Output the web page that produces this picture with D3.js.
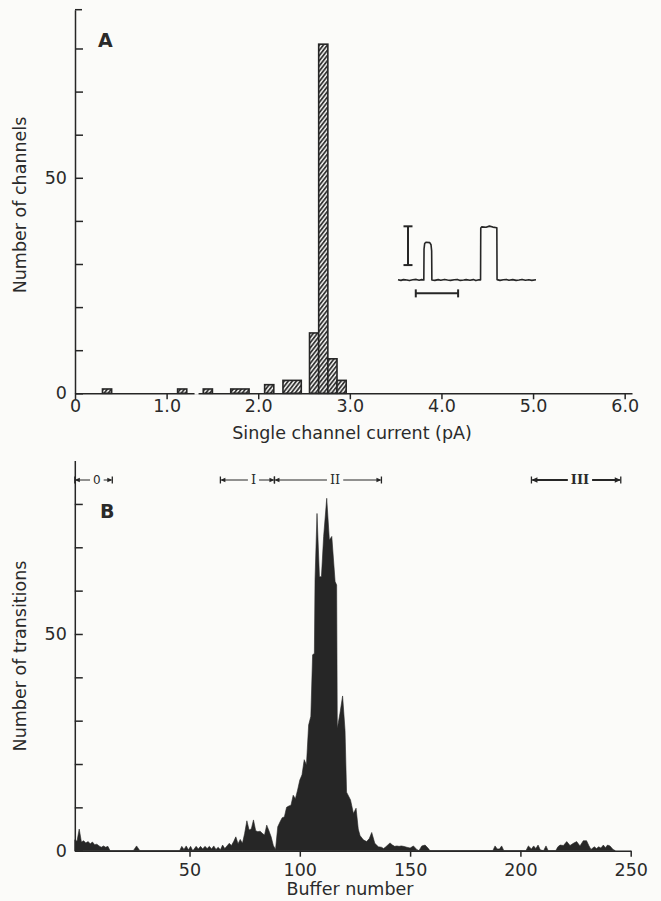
<!DOCTYPE html>
<html>
<head>
<meta charset="utf-8">
<script src="https://cdnjs.cloudflare.com/ajax/libs/d3/7.8.5/d3.min.js"></script>
<style>
  body { margin: 0; background: #fbfbf9; }
  svg { display: block; }
  text { font-family: 'DejaVu Sans', sans-serif; fill: #2a2a2a; }
</style>
</head>
<body>
<svg id="chart" width="661" height="901"></svg>
<script>
// panel A - histogram of single channel current
var binStart = [0.3, 1.12, 1.4, 1.7, 1.8, 2.07, 2.27, 2.37, 2.56, 2.66, 2.76, 2.86]
var binCount = [1, 1, 1, 1, 1, 2, 3, 3, 14, 81, 8, 3]
var binWidth = 0.1
var currentTicks = [0, 1, 2, 3, 4, 5, 6]
var currentTickLabels = ['0', '1.0', '2.0', '3.0', '4.0', '5.0', '6.0']
var channelTicks = [0, 10, 20, 30, 40, 50, 60, 70, 80]

// panel B - transitions per buffer
var bufferNumber = [
  -2, -1, 0, 1, 2, 3, 4, 5, 6, 7, 8, 9, 10, 11, 12, 13, 14,
  24.5, 26, 27.5,
  45.5, 46.5, 47.5, 48.5, 49.5, 50.5, 51.5, 53, 54, 55, 56, 57, 58, 59, 60, 61, 62, 63, 64,
  65, 66, 67, 68, 69, 70, 71, 72, 73, 74, 75, 76, 77, 78, 79, 80, 81, 82, 83, 84, 85, 86, 87, 88, 89,
  90, 91, 92, 93, 94, 95, 96, 97, 98, 99, 100, 101, 102, 103, 104, 105,
  105.8, 106.6, 106.9, 107.8, 108.9, 109.8, 110.8, 112.2, 113.4, 114.5, 116, 116.7, 117,
  118.2, 119.4, 120.5, 121.2, 123, 124.3, 125.5, 126.5, 127.3, 128.8, 130.3, 131.5, 132.6,
  134, 135.6, 137, 138, 139, 140.9, 142, 143, 144, 145, 146, 147, 148.5, 150, 151.5, 153, 154,
  155.3, 156.8, 158.3, 159,
  187.5, 188.5, 189.5, 190.5, 191.5, 192.5,
  202.5, 203.6, 205, 206, 207, 208, 209, 210.5, 211.6, 212.6,
  216, 217, 218, 219.5, 221, 222.5, 224, 225.5, 227, 228.5, 230, 231, 232,
  233.5, 234.5, 235.5, 236.5, 237.6, 238.5, 239.5, 240.6, 242, 243
]
var transitions = [
  2.5, 2.2, 5.0, 2.0, 2.3, 1.8, 2.1, 1.6, 2.0, 1.4, 1.5, 1.1, 0.8, 1.1, 0.8, 1.0, 0,
  0, 1.1, 0,
  0, 1.0, 0.3, 1.1, 0.2, 1.0, 0, 1.0, 0.4, 1.0, 0.4, 1.0, 0.5, 1.0, 0.4, 1.1, 0.3, 0.8, 0.2,
  1.3, 0.5, 1.1, 1.7, 1.2, 2.1, 3.2, 1.6, 2.6, 1.7, 4.0, 6.9, 4.8, 5.0, 7.1, 4.6, 4.4, 4.5, 4.0, 3.6, 5.9, 4.6, 3.2, 1.2, 0.3,
  5.5, 6.6, 7.6, 7.8, 10.0, 10.3, 10.5, 12.8, 12.0, 14.0, 16.3, 17.5, 21.0, 19.8, 29.0, 31.0,
  45.2, 45.5, 62.5, 77.8, 63.2, 63.2, 72.5, 81.3, 71.7, 72.5, 62.1, 61.3, 28.2,
  31.7, 35.7, 27.8, 13.5, 11.7, 8.6, 9.8, 5.0, 3.5, 2.5, 2.1, 2.8, 4.2,
  1.7, 0.9, 0.8, 0.5, 0.9, 1.8, 1.3, 1.0, 1.1, 1.0, 1.1, 1.0, 0.8, 0.6, 1.1, 0.3, 0,
  1.1, 1.3, 0.5, 0,
  0, 1.1, 0.4, 0.4, 1.1, 0,
  0, 1.1, 0.4, 1.1, 0.5, 1.3, 0.2, 0, 1.1, 0,
  0, 0.9, 1.3, 1.2, 2.1, 1.2, 1.7, 2.1, 1.1, 2.3, 2.3, 1.2, 0.3,
  0.9, 0.5, 0.9, 0.6, 1.3, 0.7, 1.3, 1.1, 0.3, 0
]
var bufferTicks = [50, 100, 150, 200, 250]
var transitionTicks = [0, 10, 20, 30, 40, 50, 60, 70, 80]

// experimental periods marked above panel B
var periodNames = ['0', 'I', 'II', 'III']
var periodStart = [-2, 64, 88.5, 205]
var periodEnd = [15, 88.5, 137, 245.5]
var periodLabelAt = [8, 79, 116, 227]

// inset: sample current record (ms, pA)
var traceTime = [0, 7, 13, 21, 27, 35, 43, 50, 56, 61, 61.5, 63, 66, 75, 78, 79.5, 80, 87, 95, 101, 110, 117,
  124, 133, 140, 147, 155, 161, 170, 178, 184, 191, 195, 195.5, 198, 208, 216, 224, 233.5, 234,
  241, 249, 256, 262, 271, 279, 286, 293, 301, 309, 316, 326]
var traceCurrent = [0.01, -0.02, 0.02, 0, -0.03, 0.01, 0.03, -0.01, 0.02, 0, 1.6, 1.88, 1.95, 1.93, 1.82, 1.5, 0, -0.02, 0.02, -0.01,
  0.03, 0, -0.02, 0.01, 0.03, -0.02, 0, 0.02, -0.01, 0.02, -0.03, 0.01, 0, 2.68, 2.74, 2.72, 2.78, 2.73, 2.7, 0.02,
  -0.02, 0.01, 0.03, -0.01, 0.02, -0.02, 0, 0.03, -0.01, 0.01, -0.02, 0.01]
var scaleBarCurrent = 2
var scaleBarTime = 100

var svg = d3.select('#chart')
var ink = '#262626'
var paper = '#fbfbf9'
var labelSize = 17.5

function styleAxis(g) {
  g.selectAll('path, line').attr('stroke', ink).attr('stroke-width', 1.5)
  g.selectAll('text')
    .attr('font-size', labelSize + 'px')
    .attr('fill', '#333')
}

// ---------- panel A ----------
var xA = d3.scaleLinear().domain([0, 6.08]).range([75, 632])
var yA = d3.scaleLinear().domain([0, 89]).range([393.3, 9.7])

var defs = svg.append('defs')
var hatch = defs.append('pattern')
  .attr('id', 'hatch')
  .attr('patternUnits', 'userSpaceOnUse')
  .attr('width', 3.2)
  .attr('height', 3.2)
  .attr('patternTransform', 'rotate(38)')
hatch.append('rect').attr('width', 3.2).attr('height', 3.2).attr('fill', paper)
hatch.append('line')
  .attr('x1', 1).attr('x2', 1)
  .attr('y1', 0).attr('y2', 3.2)
  .attr('stroke', ink)
  .attr('stroke-width', 1.7)

// merge neighbouring bins of the same count, the plotter drew them as one block
var runs = []
binStart.forEach(function (s, i) {
  var last = runs[runs.length - 1]
  if (last && last.n == binCount[i] && Math.abs(last.x1 - s) < 0.02) {
    last.x1 = s + binWidth
  } else {
    runs.push({ x0: s, x1: s + binWidth, n: binCount[i] })
  }
})

svg.append('g')
  .selectAll('rect')
  .data(runs)
  .join('rect')
  .attr('x', function (d) { return xA(d.x0) })
  .attr('width', function (d) { return xA(d.x1) - xA(d.x0) })
  .attr('y', function (d) { return yA(d.n) })
  .attr('height', function (d) { return yA(0) - yA(d.n) })
  .attr('fill', 'url(#hatch)')
  .attr('stroke', ink)
  .attr('stroke-width', 1.6)

var axisA = svg.append('g')
  .attr('transform', 'translate(0,' + yA(0) + ')')
  .call(d3.axisBottom(xA)
    .tickValues(currentTicks)
    .tickFormat(function (d, i) { return currentTickLabels[i] })
    .tickSize(6)
    .tickSizeOuter(0))
axisA.call(styleAxis)
axisA.selectAll('text').attr('y', 18.5).attr('dy', 0)
// small break in the drawn baseline
axisA.append('rect')
  .attr('x', xA(1.305)).attr('y', -1.5)
  .attr('width', 4).attr('height', 3)
  .attr('fill', paper)

var yAxisA = svg.append('g')
  .attr('transform', 'translate(' + xA(0) + ',0)')
  .call(d3.axisLeft(yA)
    .tickValues(channelTicks)
    .tickFormat(function (d) { return d == 0 || d == 50 ? d : '' })
    .tickSize(-8)
    .tickPadding(8)
    .tickSizeOuter(0))
yAxisA.call(styleAxis)
yAxisA.append('line')
  .attr('x1', 0).attr('x2', 7)
  .attr('y1', yA.range()[1]).attr('y2', yA.range()[1])
  .attr('stroke', ink).attr('stroke-width', 1.5)

svg.append('text')
  .attr('x', 98).attr('y', 47)
  .attr('font-size', '19px').attr('font-weight', 700)
  .text('A')

svg.append('text')
  .attr('x', 352).attr('y', 439)
  .attr('text-anchor', 'middle')
  .attr('font-size', labelSize + 'px')
  .attr('fill', '#333')
  .text('Single channel current (pA)')

svg.append('text')
  .attr('transform', 'translate(26,' + 205 + ') rotate(-90)')
  .attr('text-anchor', 'middle')
  .attr('font-size', labelSize + 'px')
  .attr('fill', '#333')
  .text('Number of channels')

// inset record
var inset = svg.append('g')
var tx = d3.scaleLinear().domain([0, 326]).range([398, 536])
var ty = d3.scaleLinear().domain([0, 2.75]).range([280, 226.7])
var traceLine = d3.line()
  .x(function (d) { return tx(d[0]) })
  .y(function (d) { return ty(d[1]) })
inset.append('path')
  .datum(traceTime.map(function (t, i) { return [t, traceCurrent[i]] }))
  .attr('d', traceLine)
  .attr('fill', 'none')
  .attr('stroke', ink)
  .attr('stroke-width', 1.6)
  .attr('stroke-linejoin', 'round')
// current scale bar
var barT = 23.6
inset.append('line')
  .attr('x1', tx(barT)).attr('x2', tx(barT))
  .attr('y1', ty(0.77)).attr('y2', ty(0.77 + scaleBarCurrent))
  .attr('stroke', ink).attr('stroke-width', 2)
;[0.77, 0.77 + scaleBarCurrent].forEach(function (c) {
  inset.append('line')
    .attr('x1', tx(barT) - 4.5).attr('x2', tx(barT) + 4.5)
    .attr('y1', ty(c)).attr('y2', ty(c))
    .attr('stroke', ink).attr('stroke-width', 2)
})
// time scale bar
var barC = -0.69
inset.append('line')
  .attr('x1', tx(42)).attr('x2', tx(42 + scaleBarTime))
  .attr('y1', ty(barC)).attr('y2', ty(barC))
  .attr('stroke', ink).attr('stroke-width', 2)
;[42, 42 + scaleBarTime].forEach(function (t) {
  inset.append('line')
    .attr('x1', tx(t)).attr('x2', tx(t))
    .attr('y1', ty(barC) - 4).attr('y2', ty(barC) + 4)
    .attr('stroke', ink).attr('stroke-width', 2)
})

// ---------- panel B ----------
var xB = d3.scaleLinear().domain([-2, 250]).range([74.8, 630.7])
var yB = d3.scaleLinear().domain([0, 90]).range([850.7, 460.6])

var area = d3.area()
  .x(function (d) { return xB(d[0]) })
  .y0(yB(0))
  .y1(function (d) { return yB(d[1]) })

svg.append('path')
  .datum(bufferNumber.map(function (b, i) { return [b, transitions[i]] }))
  .attr('d', area)
  .attr('fill', ink)
  .attr('stroke', ink)
  .attr('stroke-width', 0.6)

var axisB = svg.append('g')
  .attr('transform', 'translate(0,' + yB(0) + ')')
  .call(d3.axisBottom(xB)
    .tickValues(bufferTicks)
    .tickSize(6)
    .tickSizeOuter(0))
axisB.call(styleAxis)
axisB.selectAll('text').attr('y', 25).attr('dy', 0)

var yAxisB = svg.append('g')
  .attr('transform', 'translate(' + xB(-2) + ',0)')
  .call(d3.axisLeft(yB)
    .tickValues(transitionTicks)
    .tickFormat(function (d) { return d == 0 || d == 50 ? d : '' })
    .tickSize(-8)
    .tickPadding(8)
    .tickSizeOuter(0))
yAxisB.call(styleAxis)

svg.append('text')
  .attr('x', 100).attr('y', 518)
  .attr('font-size', '19px').attr('font-weight', 700)
  .text('B')

svg.append('text')
  .attr('x', 350).attr('y', 895)
  .attr('text-anchor', 'middle')
  .attr('font-size', labelSize + 'px')
  .attr('fill', '#333')
  .text('Buffer number')

svg.append('text')
  .attr('transform', 'translate(26,' + 656 + ') rotate(-90)')
  .attr('text-anchor', 'middle')
  .attr('font-size', labelSize + 'px')
  .attr('fill', '#333')
  .text('Number of transitions')

// period markers:  |<-- I -->|
var rowY = 480
var periods = svg.append('g')
periodNames.forEach(function (name, i) {
  var heavy = i == 3
  var sw = heavy ? 2 : 1
  var ah = heavy ? 6 : 5
  var aw = heavy ? 2.8 : 2.3
  var x0 = xB(periodStart[i])
  var x1 = xB(periodEnd[i])
  var xm = xB(periodLabelAt[i])
  var label = periods.append('text')
    .attr('x', xm).attr('y', rowY + 4.3)
    .attr('text-anchor', 'middle')
    .attr('font-size', i == 0 ? '12px' : '13px')
    .attr('font-weight', heavy ? 700 : 400)
    .style('font-family', i == 0 ? "'DejaVu Sans', sans-serif" : "'DejaVu Serif', serif")
    .text(name)
  var w = label.node().getComputedTextLength() / 2 + 3
  periods.append('line')
    .attr('x1', x0 + 1).attr('x2', xm - w)
    .attr('y1', rowY).attr('y2', rowY)
    .attr('stroke', ink).attr('stroke-width', sw)
  periods.append('line')
    .attr('x1', xm + w).attr('x2', x1 - 1)
    .attr('y1', rowY).attr('y2', rowY)
    .attr('stroke', ink).attr('stroke-width', sw)
  periods.append('path')
    .attr('d', 'M' + x0 + ',' + rowY + 'l' + ah + ',' + (-aw) + 'v' + 2 * aw + 'z')
    .attr('fill', ink)
  periods.append('path')
    .attr('d', 'M' + x1 + ',' + rowY + 'l' + (-ah) + ',' + (-aw) + 'v' + 2 * aw + 'z')
    .attr('fill', ink)
  ;[x0, x1].forEach(function (x) {
    periods.append('line')
      .attr('x1', x).attr('x2', x)
      .attr('y1', rowY - 3.5).attr('y2', rowY + 3.5)
      .attr('stroke', ink).attr('stroke-width', 1.3)
  })
})
</script>
</body>
</html>
